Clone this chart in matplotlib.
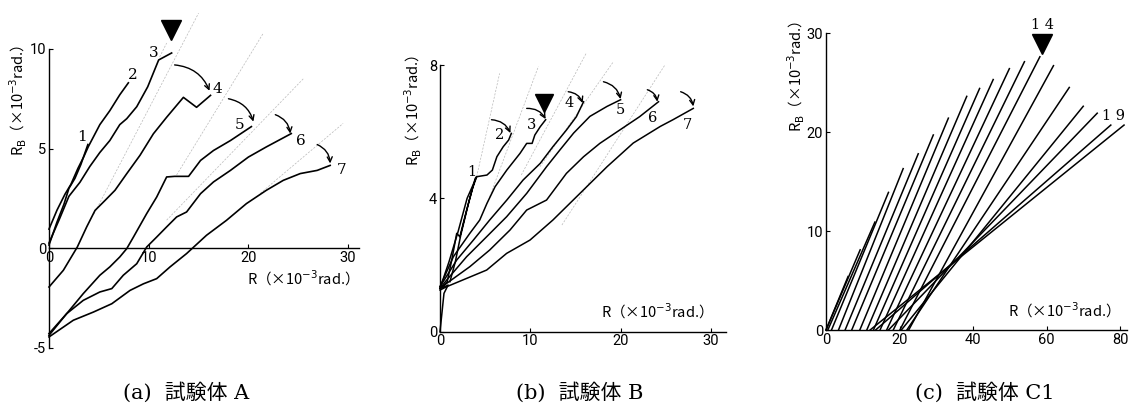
import matplotlib
matplotlib.use("Agg")
import matplotlib.pyplot as plt

plt.rcParams["axes.unicode_minus"] = False

NUM_FONT = ["Liberation Sans Narrow", "Roboto", "DejaVu Sans"]
LBL_FONT = ["Noto Sans CJK JP", "DejaVu Sans"]
SERIF = ["DejaVu Serif", "Noto Sans CJK JP"]

# ---- (a) specimen A : cycles 1..7 ----
a1_x = [0, 0.8, 1.5, 2.0, 2.6, 3.2, 3.9]
a1_y = [0.15, 1.3, 2.2, 3.0, 3.5, 4.2, 5.2]
a2_x = [0, 0.8, 1.6, 2.2, 2.9, 3.5, 3.95, 5.1, 6.1, 7.1, 7.96]
a2_y = [0.95, 1.9, 2.7, 3.2, 4.0, 4.6, 5.1, 6.2, 6.9, 7.7, 8.3]
a3_x = [0, 1.0, 2.0, 3.1, 4.1, 5.1, 6.1, 7.1, 7.8, 8.8, 9.9, 11.0, 12.3]
a3_y = [0.25, 1.4, 2.6, 3.3, 4.1, 4.8, 5.4, 6.2, 6.5, 7.1, 8.1, 9.45, 9.8]
a4_x = [0, 1.44, 2.84, 3.78, 4.62, 5.62, 6.62, 7.79, 9.13, 10.47, 11.8, 13.48, 14.8, 16.2]
a4_y = [-1.96, -1.12, 0.05, 1.06, 1.89, 2.39, 2.9, 3.73, 4.66, 5.74, 6.57, 7.57, 7.07, 7.67]
a5_x = [0, 1.77, 3.44, 5.1, 6.1, 7.1, 7.8, 8.47, 9.8, 10.8, 11.8, 12.6, 14.0, 15.2, 16.5, 18.2, 20.3]
a5_y = [-4.3, -3.3, -2.29, -1.37, -0.95, -0.45, -0.03, 0.55, 1.73, 2.56, 3.57, 3.6, 3.6, 4.4, 4.9, 5.4, 6.1]
a6_x = [0, 1.77, 3.44, 5.1, 6.3, 7.45, 8.8, 9.8, 10.8, 11.8, 12.8, 13.8, 15.2, 16.5, 18.2, 20.0, 21.8, 24.3]
a6_y = [-4.39, -3.3, -2.63, -2.21, -2.04, -1.37, -0.79, 0.05, 0.55, 1.06, 1.56, 1.81, 2.73, 3.32, 3.9, 4.57, 5.08, 5.75]
a7_x = [0, 2.44, 4.45, 6.3, 8.13, 9.47, 10.8, 12.14, 13.8, 15.8, 17.8, 19.8, 21.8, 23.5, 25.2, 26.9, 28.2]
a7_y = [-4.47, -3.63, -3.22, -2.8, -2.13, -1.8, -1.54, -0.95, -0.28, 0.64, 1.39, 2.23, 2.9, 3.4, 3.74, 3.9, 4.15]
a_curves = [(a1_x, a1_y), (a2_x, a2_y), (a3_x, a3_y), (a4_x, a4_y),
            (a5_x, a5_y), (a6_x, a6_y), (a7_x, a7_y)]
a_ref_x = [(4.5, 15.0), (12.8, 21.5), (11.8, 25.5), (21.2, 29.5), (11.1, 11.8)]
a_ref_y = [(1.7, 11.8), (3.67, 10.8), (1.4, 8.5), (2.75, 6.26), (9.6, 10.3)]
a_lab = ["1", "2", "3", "4", "5", "6", "7"]
a_lab_x = [3.3, 8.4, 10.5, 16.9, 19.1, 25.3, 29.3]
a_lab_y = [5.6, 8.7, 9.8, 8.0, 6.2, 5.4, 3.9]
a_arr_from = [(12.6, 9.2), (18.0, 7.5), (22.7, 6.7), (26.9, 5.2)]
a_arr_to = [(16.1, 7.9), (20.5, 6.35), (24.2, 5.75), (28.2, 4.25)]

# ---- (b) specimen B ----
b1_x = [0, 0.44, 0.9, 0.2, 0.8, 1.3, 1.85, 2.2, 2.9, 3.6, 4.06, 3.9, 3.2, 2.3, 1.7, 1.1]
b1_y = [0, 1.15, 1.4, 1.3, 1.5, 2.15, 2.95, 2.85, 3.6, 4.3, 4.65, 4.6, 3.9, 2.9, 2.1, 1.5]
b2_x = [0, 1.0, 2.0, 3.0, 4.06, 5.2, 5.8, 6.3, 7.0, 7.6, 7.9]
b2_y = [1.3, 2.1, 3.0, 4.0, 4.65, 4.7, 4.85, 5.25, 5.55, 5.75, 5.95]
b3_x = [0, 1.48, 3.3, 4.4, 5.2, 6.1, 7.4, 8.86, 9.6, 10.2, 10.5, 11.1, 11.7]
b3_y = [1.35, 2.25, 2.95, 3.35, 3.85, 4.35, 4.85, 5.35, 5.65, 5.65, 5.9, 6.15, 6.36]
b4_x = [0, 1.85, 3.7, 5.5, 7.4, 9.2, 11.1, 12.5, 14.0, 15.1, 15.9]
b4_y = [1.35, 2.15, 2.75, 3.35, 3.95, 4.55, 5.05, 5.55, 6.05, 6.45, 6.9]
b5_x = [0, 0.74, 2.95, 5.17, 7.38, 9.6, 11.8, 13.3, 14.8, 16.6, 18.5, 20.0]
b5_y = [1.3, 1.55, 2.25, 2.85, 3.45, 4.15, 4.95, 5.46, 5.96, 6.46, 6.76, 6.96]
b6_x = [0, 0.74, 3.3, 5.5, 7.75, 9.6, 11.8, 14.0, 15.9, 17.7, 19.9, 22.1, 24.2]
b6_y = [1.3, 1.45, 1.95, 2.45, 3.05, 3.65, 3.95, 4.75, 5.25, 5.65, 6.05, 6.45, 6.9]
b7_x = [0, 0.74, 5.17, 7.38, 9.97, 12.5, 15.5, 18.5, 21.4, 24.4, 25.8, 28.05]
b7_y = [1.25, 1.35, 1.85, 2.35, 2.75, 3.35, 4.15, 4.95, 5.66, 6.16, 6.36, 6.7]
b_curves = [(b1_x, b1_y), (b2_x, b2_y), (b3_x, b3_y), (b4_x, b4_y),
            (b5_x, b5_y), (b6_x, b6_y), (b7_x, b7_y)]
b_ref_x = [(4.06, 6.6), (5.5, 10.9), (9.0, 16.2), (11.07, 19.2), (13.5, 24.9)]
b_ref_y = [(4.65, 7.75), (4.05, 7.96), (4.7, 8.36), (4.95, 8.1), (3.2, 8.0)]
b_lab = ["1", "2", "3", "4", "5", "6", "7"]
b_lab_x = [3.5, 6.6, 10.1, 14.3, 20.0, 23.6, 27.4]
b_lab_y = [4.8, 5.9, 6.2, 6.86, 6.65, 6.4, 6.2]
b_arr_from = [(5.7, 6.36), (9.6, 6.7), (14.2, 7.2), (18.1, 7.5), (22.96, 7.26), (26.65, 7.2)]
b_arr_to = [(7.8, 5.96), (11.7, 6.38), (15.8, 6.86), (20.0, 6.98), (24.07, 6.9), (28.05, 6.76)]

# ---- (c) specimen C1 : straight skeleton lines ----
c_start = [0, 0, 0.5, 1.5, 3.4, 5.2, 7.0, 9.2, 11.1, 12.9, 14.7, 16.5, 18.3, 20.1,
           22.5, 22.0, 20.5, 17.0, 13.5, 12.0]
c_end_x = [6.0, 9.3, 13.3, 17.0, 21.0, 25.1, 29.2, 33.3, 38.3, 41.8, 45.5, 49.9, 54.0, 58.2,
           61.9, 66.2, 70.0, 73.8, 77.5, 81.1]
c_end_y = [5.4, 8.1, 10.9, 13.9, 16.3, 17.8, 19.7, 21.4, 23.6, 24.4, 25.3, 26.4, 27.1, 27.6,
           26.7, 24.5, 22.6, 21.9, 20.7, 20.7]

W, H = 1132, 417
fig = plt.figure(figsize=(W / 100, H / 100), dpi=100)


def make_axes(px_left, px_right, px_top, px_bottom, xlim, ylim):
    ax = fig.add_axes([px_left / W, 1 - px_bottom / H,
                       (px_right - px_left) / W, (px_bottom - px_top) / H])
    ax.set_xlim(xlim)
    ax.set_ylim(ylim)
    ax.patch.set_alpha(0)
    return ax


def style_axes(ax, xb, yb, xticks, yticks):
    ax.spines["top"].set_visible(False)
    ax.spines["right"].set_visible(False)
    ax.spines["left"].set_position(("data", 0))
    ax.spines["bottom"].set_position(("data", 0))
    ax.spines["left"].set_bounds(*yb)
    ax.spines["bottom"].set_bounds(*xb)
    for s in ("left", "bottom"):
        ax.spines[s].set_linewidth(1.0)
    ax.set_xticks(xticks)
    ax.set_yticks(yticks)
    ax.tick_params(direction="in", length=3, width=0.8, labelsize=10.5, pad=2)
    for t in ax.get_xticklabels() + ax.get_yticklabels():
        t.set_family(NUM_FONT)


def axis_labels(ax, xl, yl):
    ax.text(xl[0], xl[1], "R（×10$^{-3}$rad.）", family=LBL_FONT, fontsize=10.5,
            ha="center", va="center")
    ax.text(yl[0], yl[1], "R$_\\mathrm{B}$（×10$^{-3}$rad.）", family=LBL_FONT, fontsize=10.5,
            rotation=90, ha="center", va="center")


def arrows(ax, starts, ends):
    for s, e in zip(starts, ends):
        ax.annotate("", xy=e, xytext=s,
                    arrowprops=dict(arrowstyle="->", lw=1.0, color="k", mutation_scale=9,
                                    connectionstyle="arc3,rad=-0.3",
                                    shrinkA=0, shrinkB=0))


REF_STYLE = dict(color="0.72", lw=0.5, ls=(0, (3, 2)))

# (a)
ax = make_axes(40, 370, 0, 358, ((40 - 49) / 9.97, (370 - 49) / 9.97),
               ((248 - 358) / 19.9, 248 / 19.9))
style_axes(ax, (0, 31.1), (-5, 10), [0, 10, 20, 30], [-5, 0, 5, 10])
for rx, ry in zip(a_ref_x, a_ref_y):
    ax.plot(rx, ry, **REF_STYLE)
for cx, cy in a_curves:
    ax.plot(cx, cy, color="k", lw=1.2)
for s, x, y in zip(a_lab, a_lab_x, a_lab_y):
    ax.text(x, y, s, family=SERIF, fontsize=11, ha="center", va="center")
arrows(ax, a_arr_from, a_arr_to)
ax.plot([12.2], [10.95], marker="v", ms=15, color="k", clip_on=False)
axis_labels(ax, (25.1, -1.5), (-3.1, 7.4))

# (b)
ax = make_axes(430, 740, 40, 340, ((430 - 440) / 9.03, (740 - 440) / 9.03),
               ((331.7 - 340) / 33.33, (331.7 - 40) / 33.33))
style_axes(ax, (0, 31.7), (0, 8), [0, 10, 20, 30], [0, 4, 8])
for rx, ry in zip(b_ref_x, b_ref_y):
    ax.plot(rx, ry, **REF_STYLE)
for cx, cy in b_curves:
    ax.plot(cx, cy, color="k", lw=1.1)
for s, x, y in zip(b_lab, b_lab_x, b_lab_y):
    ax.text(x, y, s, family=SERIF, fontsize=10.5, ha="center", va="center")
arrows(ax, b_arr_from, b_arr_to)
ax.plot([11.5], [6.87], marker="v", ms=13, color="k", clip_on=False)
axis_labels(ax, (23.6, 0.6), (-2.95, 6.65))

# (c)
ax = make_axes(810, 1132, 10, 340, ((810 - 826) / 3.675, (1132 - 826) / 3.675),
               ((330 - 340) / 9.9, (330 - 10) / 9.9))
style_axes(ax, (0, 82), (0, 30), [0, 20, 40, 60, 80], [0, 10, 20, 30])
for x0, x1, y1 in zip(c_start, c_end_x, c_end_y):
    ax.plot([x0, x1], [0, y1], color="k", lw=1.1)
ax.plot([58.8], [28.9], marker="v", ms=15, color="k", clip_on=False)
ax.text(58.8, 30.8, "1 4", family=SERIF, fontsize=10.5, ha="center", va="center")
ax.text(78.3, 21.6, "1 9", family=SERIF, fontsize=10.5, ha="center", va="center")
axis_labels(ax, (63.7, 2.0), (-8.0, 25.6))

# captions
captions = ["(a)  試験体 A", "(b)  試験体 B", "(c)  試験体 C1"]
cap_x = [186, 580, 985]
for c, x in zip(captions, cap_x):
    fig.text(x / W, 1 - 392 / H, c, family=SERIF, fontsize=15, ha="center", va="center")

fig.savefig("out.png", dpi=100)
